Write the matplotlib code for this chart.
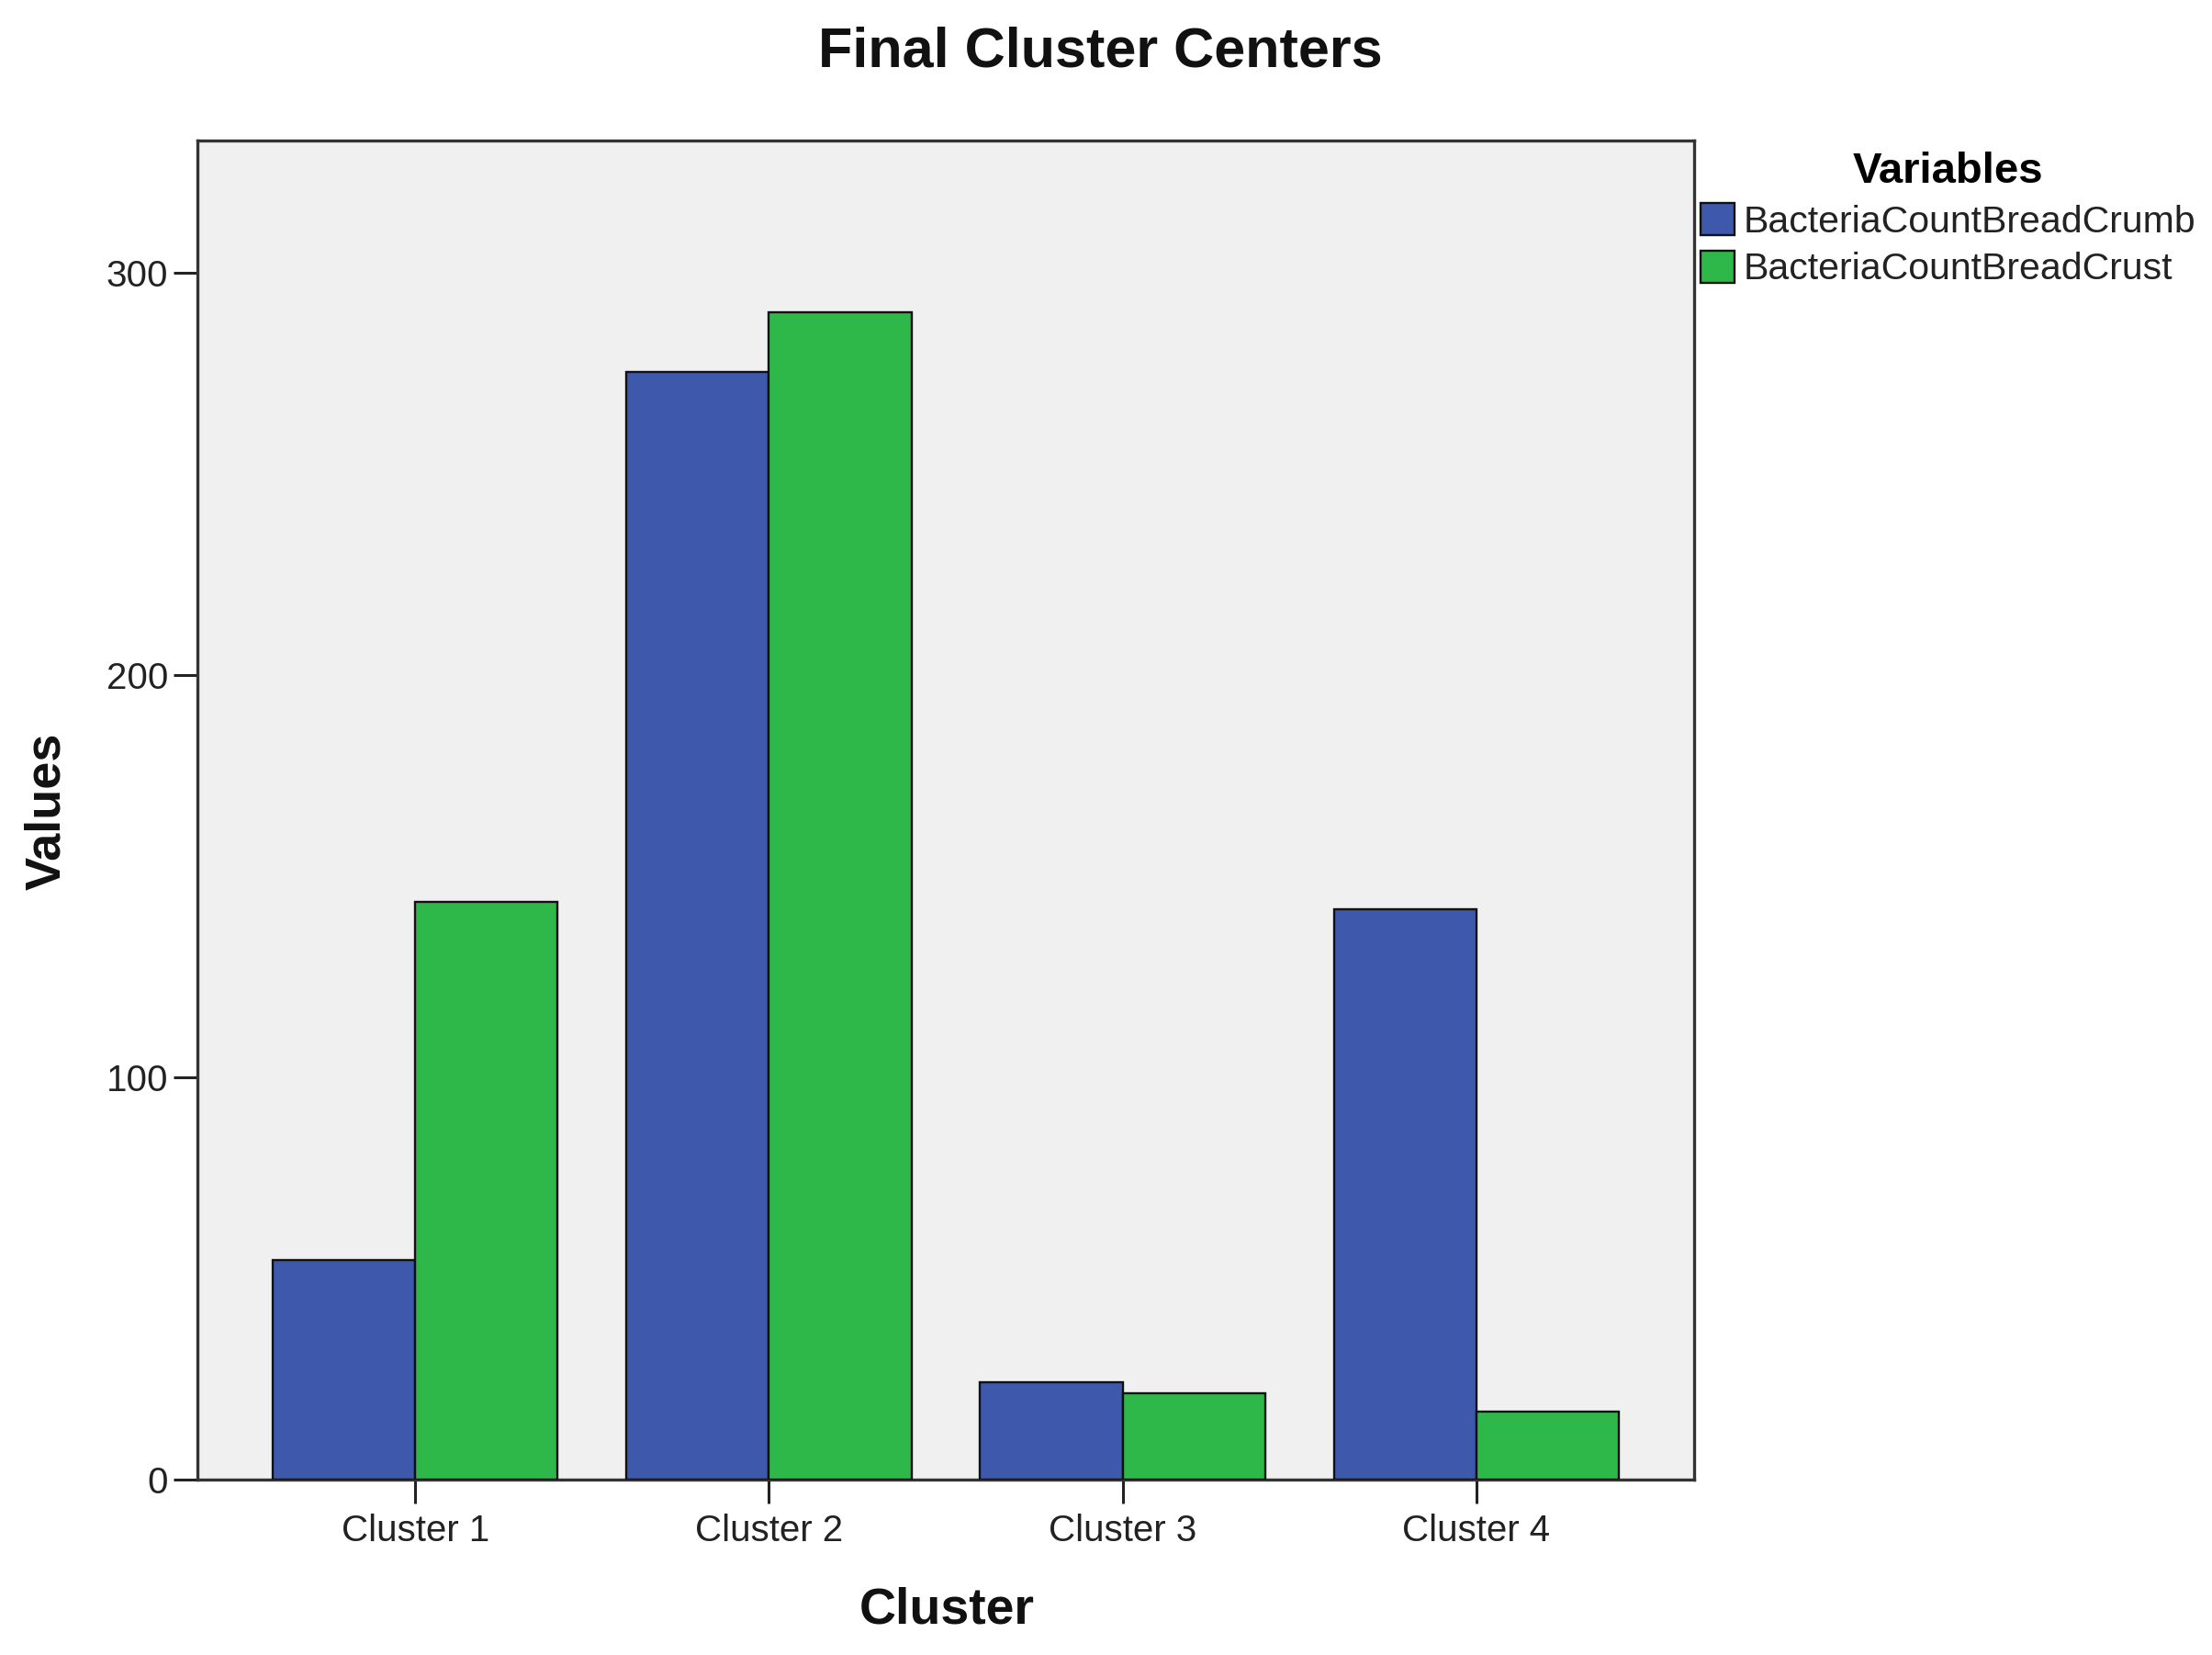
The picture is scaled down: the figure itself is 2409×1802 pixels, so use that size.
import matplotlib
matplotlib.use("Agg")
import matplotlib.pyplot as plt
import numpy as np

plt.rcParams['font.family'] = ['Liberation Sans', 'DejaVu Sans']

categories = ["Cluster 1", "Cluster 2", "Cluster 3", "Cluster 4"]
crumb = [54.6, 275.5, 24.2, 141.9]
crust = [143.7, 290.4, 21.5, 16.9]
series_names = ["BacteriaCountBreadCrumb", "BacteriaCountBreadCrust"]
yticks = [0, 100, 200, 300]

W, H = 2409, 1802
fig = plt.figure(figsize=(W / 100, H / 100), dpi=100)
fig.patch.set_facecolor('white')

left, right, top, bottom = 215, 1845, 153, 1611
ax = fig.add_axes([left / W, 1 - bottom / H, (right - left) / W, (bottom - top) / H])
ax.set_facecolor('#F0F0F0')

x = np.arange(len(categories))
bw = 0.403
ax.bar(x - bw / 2, crumb, width=bw, color='#3E58AC', edgecolor='#111111', linewidth=1.7,
       label=series_names[0], zorder=3)
ax.bar(x + bw / 2, crust, width=bw, color='#2EB84A', edgecolor='#111111', linewidth=1.7,
       label=series_names[1], zorder=3)

ax.set_xlim(-0.616, 3.616)
ax.set_ylim(0, 333)
ax.set_xticks(x)
ax.set_xticklabels(categories)
ax.set_yticks(yticks)
ax.tick_params(axis='both', direction='out', length=19, width=2.2, color='#222222',
               labelsize=29, labelcolor='#222222')
ax.tick_params(axis='x', pad=8)
ax.tick_params(axis='y', pad=4)
for s in ax.spines.values():
    s.set_linewidth(2.4)
    s.set_color('#333333')

fig.text(1198 / W, 1 - 57 / H, "Final Cluster Centers", ha='center', va='center',
         fontsize=44, fontweight='bold', color='#111111')
fig.text(1031 / W, 1 - 1754 / H, "Cluster", ha='center', va='center',
         fontsize=40, fontweight='bold', color='#111111')
fig.text(51 / W, 1 - 883 / H, "Values", ha='center', va='center', rotation=90,
         fontsize=39, fontweight='bold', color='#111111')

leg = fig.legend(loc='upper left', bbox_to_anchor=(1852 / W, 1 - 165 / H),
                 frameon=False, fontsize=29.5, title="Variables",
                 title_fontproperties={'weight': 'bold', 'size': 34},
                 handlelength=0.9, handleheight=0.92, handletextpad=0.25,
                 labelspacing=0.3, borderpad=0, borderaxespad=0)
for t in leg.get_texts():
    t.set_color('#222222')

fig.savefig("out.png", dpi=100, facecolor='white')
